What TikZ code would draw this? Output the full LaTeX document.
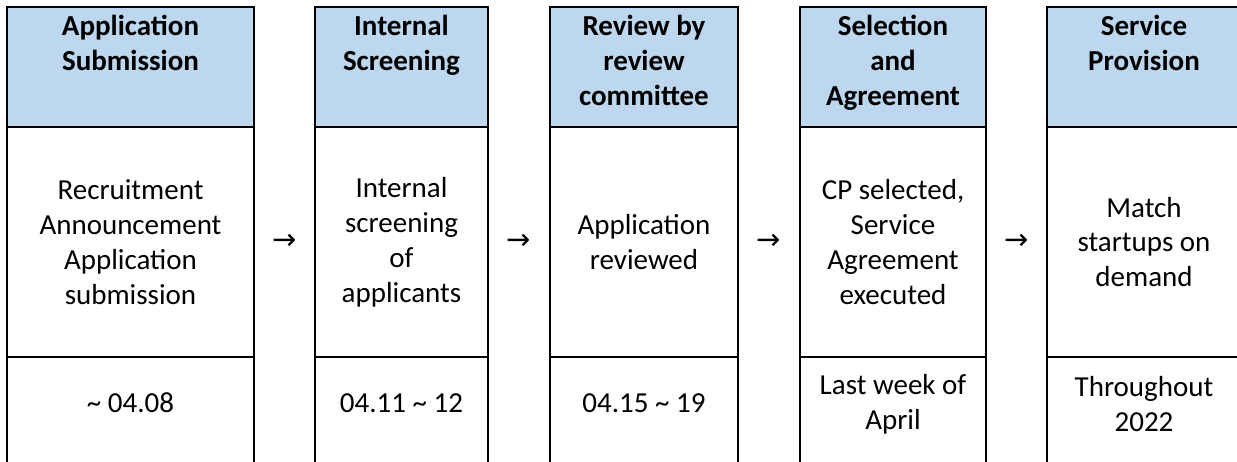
\documentclass[tikz,border=0pt]{standalone}
\usepackage{fontspec}
\setmainfont{Carlito}
\newfontfamily\arrowfont{DejaVu Sans}
\definecolor{headblue}{HTML}{BDD7EE}

\begin{document}
\begin{tikzpicture}[x=0.02cm,y=-0.02cm]
    \tikzstyle{every node}=[font=\fontsize{16.5}{19.9}\selectfont, align=center, inner sep=0pt]
    \tikzstyle{head}=[font=\fontsize{16.5}{19.9}\selectfont\bfseries, anchor=north]
    \tikzstyle{grid}=[line width=0.04cm]
    \useasboundingbox (0,0) rectangle (1237,461);
    % Row edges (top, header, body, bottom)
    \def\yt{7}
    \def\yh{127}
    \def\yb{357}
    \def\ye{475}
    % Draw the five columns
    \foreach \l/\r in {7/254, 315/488, 550/738, 800/986, 1047/1241} {
        \fill[headblue] (\l,\yt) rectangle (\r,\yh);
        \draw[grid] (\l,\ye) -- (\l,\yt) -- (\r,\yt) -- (\r,\ye);
        \draw[grid] (\l,\yh) -- (\r,\yh) (\l,\yb) -- (\r,\yb);
    }
    % Headers
    \node[head] (h1) at (130.5,15) {Application\\Submission};
    \node[head] (h2) at (401.5,15) {Internal\\Screening};
    \node[head] (h3) at (644,15) {Review by\\review\\committee};
    \node[head] (h4) at (893,15) {Selection\\and\\Agreement};
    \node[head] (h5) at (1144,15) {Service\\Provision};
    % Steps
    \node (b1) at (130.5,242) {Recruitment\\Announcement\\Application\\submission};
    \node (b2) at (401.5,242) {Internal\\screening\\of\\applicants};
    \node (b3) at (644,242) {Application\\reviewed};
    \node (b4) at (893,242) {CP selected,\\Service\\Agreement\\executed};
    \node (b5) at (1144,242) {Match\\startups on\\demand};
    % Arrows between the columns
    \node (a1) at (284.5,242) {\arrowfont →};
    \node (a2) at (519,242) {\arrowfont →};
    \node (a3) at (769,242) {\arrowfont →};
    \node (a4) at (1016.5,242) {\arrowfont →};
    % Dates
    \node (d1) at (130.5,403) {\textasciitilde{} 04.08};
    \node (d2) at (401.5,403) {04.11 \textasciitilde{} 12};
    \node (d3) at (644,403) {04.15 \textasciitilde{} 19};
    \node (d4) at (893,404) {Last week of\\April};
    \node (d5) at (1144,404) {Throughout\\2022};
  \end{tikzpicture}
\end{document}
